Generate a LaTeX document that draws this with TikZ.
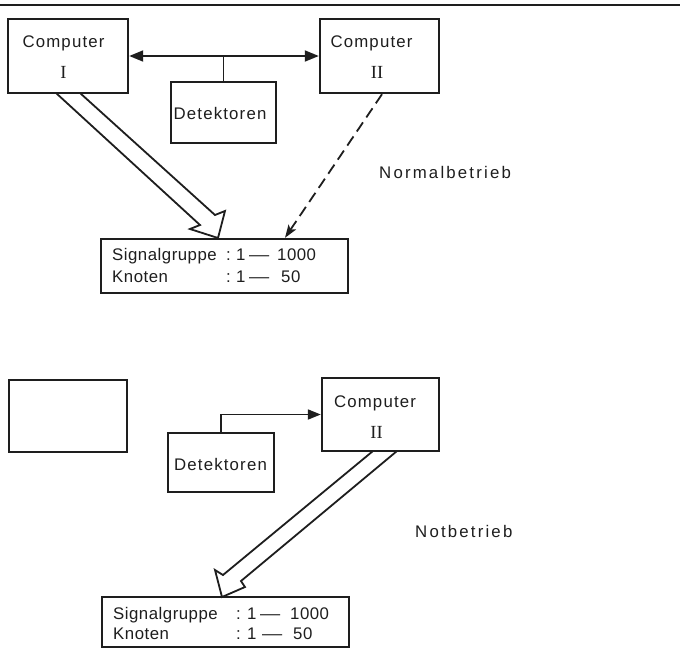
\documentclass[tikz,border=0pt]{standalone}
\usepackage{fontspec}
\usepackage{graphicx}
\setmainfont{Liberation Sans}[LetterSpace=7]
\newfontfamily\romfont{Liberation Serif}
\usetikzlibrary{arrows.meta}
\definecolor{ink}{HTML}{1E1E1E}
\newcommand{\longdash}{\scalebox{1.2}[1]{—}}
\begin{document}
\begin{tikzpicture}[x=1pt,y=-1pt,
  box/.style={draw=ink,line width=2.4pt,inner sep=0pt},
  lbl/.style={inner sep=0pt,anchor=base,text=ink,font=\fontsize{16.8}{20}\selectfont},
  tab/.style={inner sep=0pt,anchor=base west,text=ink,font={\fontsize{16.8}{20}\selectfont\addfontfeature{LetterSpace=3}}},
  num/.style={inner sep=0pt,anchor=base,text=ink,font=\romfont\fontsize{18.5}{20}\selectfont},
  wide/.style={inner sep=0pt,anchor=base west,text=ink,font={\fontsize{16.8}{20}\selectfont\addfontfeature{LetterSpace=13}}},
  conn/.style={draw=ink,line width=1.8pt},
  block/.style={draw=ink,line width=1.8pt,line join=miter}
]
\fill[white] (0,0) rectangle (680,657);
\useasboundingbox (0,0) rectangle (680,657);
\draw[ink,line width=1.8pt] (0,5) -- (680,5);

% ---------- Normalbetrieb ----------
\draw[block] (80,93) -- (215,215) -- (225,211) -- (218,238) -- (190,229) -- (200,225) -- (56,93);

\node[box,minimum width=120pt,minimum height=74pt] (c1) at (68,56) {};
\node[box,minimum width=119pt,minimum height=74pt] (c2) at (379.5,56) {};
\node[box,minimum width=105pt,minimum height=61pt] (d1) at (223.5,112.5) {};
\node[box,minimum width=247pt,minimum height=54pt] (s1) at (224.5,266) {};

\node[lbl] (c1t) at (63.5,47) {Computer};
\node[num] (c1n) at (63.5,78) {I};
\node[lbl] (c2t) at (371.5,47) {Computer};
\node[num] (c2n) at (377,78) {II};
\node[lbl] (d1t) at (220,119) {Detektoren};
\node[wide] (nb) at (379,178) {Normalbetrieb};

\node[tab] (s1a) at (112,260) {\makebox[114pt][l]{Signalgruppe}\makebox[10pt][l]{:}\makebox[13pt][l]{1}\makebox[28pt][l]{\longdash}1000};
\node[tab] (s1b) at (112,282) {\makebox[114pt][l]{Knoten}\makebox[10pt][l]{:}\makebox[13pt][l]{1}\makebox[32pt][l]{\longdash}50};

\draw[conn,{Triangle[length=14pt,width=11pt]}-{Triangle[length=14pt,width=11pt]}] (c1.east) -- (c2.west);
\coordinate (j1) at (d1.north |- c1.east);
\draw[conn] (d1.north) -- (j1);
\draw[conn,dash pattern=on 11pt off 6pt,-{Stealth[length=13pt,width=9pt,inset=3pt]}] ([xshift=2.5pt]c2.south) -- ([xshift=60.5pt]s1.north);

% ---------- Notbetrieb ----------
\draw[block] (373,451) -- (223,575) -- (215,570) -- (222,597) -- (245,587) -- (241,581) -- (397,451);

\node[box,minimum width=118pt,minimum height=72pt] (e0) at (68,416) {};
\node[box,minimum width=117pt,minimum height=73pt] (c3) at (380.5,414.5) {};
\node[box,minimum width=106pt,minimum height=59pt] (d2) at (221,462.5) {};
\node[box,minimum width=247pt,minimum height=50pt] (s2) at (225.5,622) {};

\node[lbl] (c3t) at (375,407) {Computer};
\node[num] (c3n) at (376.5,438) {II};
\node[lbl] (d2t) at (220.5,470) {Detektoren};
\node[wide] (ntb) at (415,537) {Notbetrieb};

\node[tab] (s2a) at (113,619) {\makebox[123pt][l]{Signalgruppe}\makebox[11pt][l]{:}\makebox[13pt][l]{1}\makebox[30pt][l]{\longdash}1000};
\node[tab] (s2b) at (113,639) {\makebox[123pt][l]{Knoten}\makebox[11pt][l]{:}\makebox[15pt][l]{1}\makebox[31pt][l]{\longdash}50};

\draw[conn,-{Triangle[length=13pt,width=10pt]}] (d2.north) |- (c3.west);
\end{tikzpicture}
\end{document}
